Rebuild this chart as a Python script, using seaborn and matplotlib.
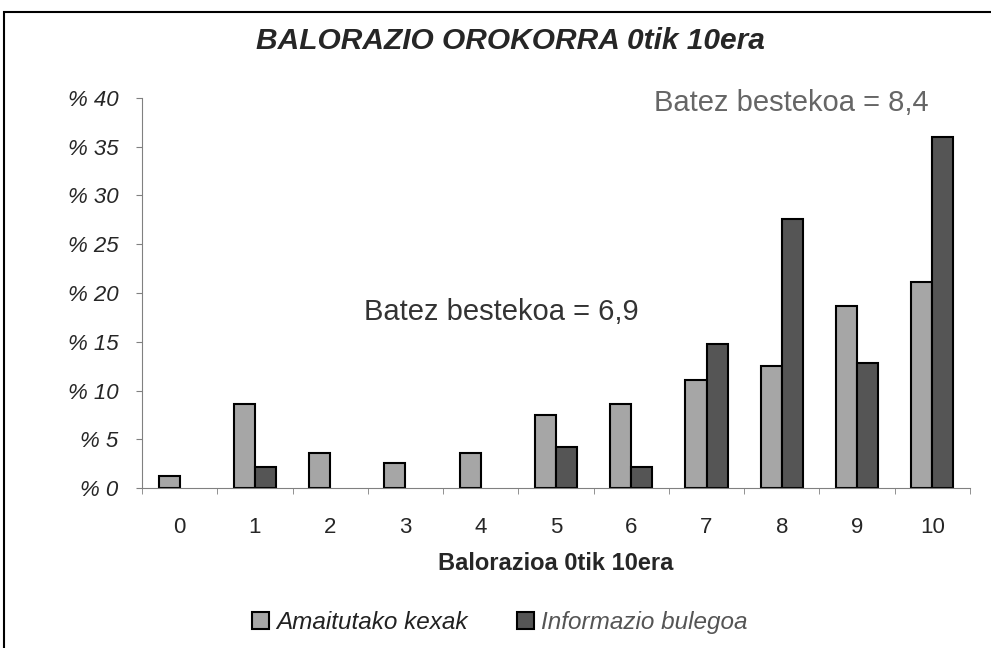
import numpy as np
import pandas as pd
import seaborn as sns
import matplotlib.pyplot as plt
from matplotlib.patches import Rectangle

# data
ratings = [str(i) for i in range(11)]
kexak = [1.2, 8.6, 3.6, 2.6, 3.6, 7.5, 8.6, 11.1, 12.5, 18.7, 21.1]
bulegoa = [0, 2.2, 0, 0, 0, 4.2, 2.2, 14.8, 27.6, 12.8, 36.0]
series_names = ["Amaitutako kexak", "Informazio bulegoa"]
ytick_vals = [0, 5, 10, 15, 20, 25, 30, 35, 40]
ytick_labels = ["% " + str(v) for v in ytick_vals]

df = pd.DataFrame({
    "rating": ratings * 2,
    "pct": kexak + bulegoa,
    "serie": [series_names[0]] * 11 + [series_names[1]] * 11,
})

sns.set_style("white")
plt.rcParams['font.family'] = ['Liberation Sans', 'DejaVu Sans']

fig = plt.figure(figsize=(9.91, 6.48), dpi=100)
ax = fig.add_axes([0.1433, 0.2469, 0.8355, 0.6019])

sns.barplot(data=df, x="rating", y="pct", hue="serie", order=ratings,
            palette=["#a6a6a6", "#555555"], width=0.56, gap=0,
            edgecolor="black", linewidth=1.5, ax=ax)
# no outline for empty bars
for p in ax.patches:
    if p.get_height() == 0:
        p.set_linewidth(0)

ax.set_xlim(-0.5, 10.5)
ax.set_ylim(0, 40)
ax.set_yticks(ytick_vals)
ax.set_yticklabels(ytick_labels, fontsize=16, style="italic")
ax.tick_params(axis="y", which="major", length=4, color="#808080", left=True, pad=13)
ax.set_xticks(range(11))
ax.set_xticklabels(ratings, fontsize=16)
ax.set_xticks(np.arange(-0.5, 11, 1), minor=True)
ax.tick_params(axis="x", which="major", length=0, pad=21)
ax.tick_params(axis="x", which="minor", length=4, color="#808080", bottom=True)
for s in ["top", "right"]:
    ax.spines[s].set_visible(False)
for s in ["left", "bottom"]:
    ax.spines[s].set_color("#808080")
ax.set_ylabel("")
ax.set_xlabel("Balorazioa 0tik 10era", fontsize=17, fontweight="bold", labelpad=10)

ax.text(0.434, 0.452, "Batez bestekoa = 6,9", transform=ax.transAxes,
        fontsize=21, color="#333333", va="center", ha="center")
ax.text(0.784, 0.987, "Batez bestekoa = 8,4", transform=ax.transAxes,
        fontsize=21, color="#666666", va="center", ha="center")

fig.suptitle("BALORAZIO OROKORRA 0tik 10era", x=0.515, y=0.958,
             fontsize=21.5, fontweight="bold", style="italic")

leg = ax.legend(loc="center", bbox_to_anchor=(0.432, -0.345), ncol=2, frameon=False,
                fontsize=17.5, handlelength=0.7, handleheight=0.7, handletextpad=0.3,
                columnspacing=2.0)
for t, c in zip(leg.get_texts(), ["#222222", "#555555"]):
    t.set_style("italic")
    t.set_color(c)
for h in leg.legend_handles:
    h.set_edgecolor("black")
    h.set_linewidth(1.5)

fig.patches.append(Rectangle((4 / 991, -0.1), 1.2, 1 - 12 / 648 + 0.1,
                             transform=fig.transFigure, fill=False,
                             edgecolor="black", linewidth=1.5))

fig.savefig("out.png", dpi=100)
